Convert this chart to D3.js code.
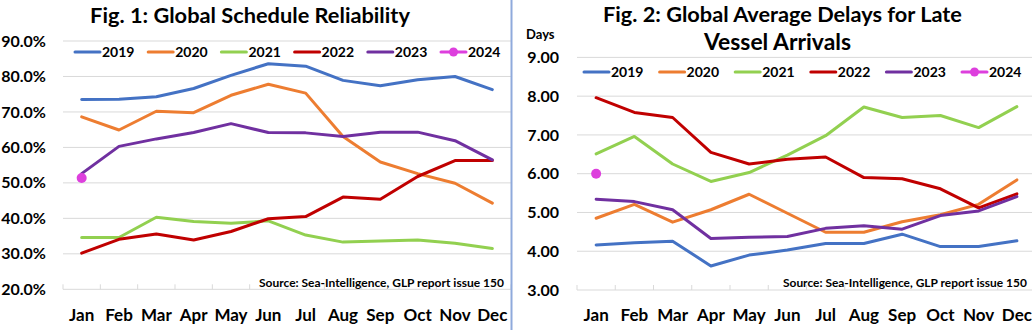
<!DOCTYPE html>
<html><head><meta charset="utf-8">
<script src="https://cdn.jsdelivr.net/npm/d3@7"></script>
<style>
body{margin:0;background:#fff}
svg{display:block}
text{font-family:Lato,"Open Sans",sans-serif;font-weight:700;fill:#000}
</style>
</head><body>
<svg id="c" width="1032" height="330"></svg>
<script>
const months = ["Jan","Feb","Mar","Apr","May","Jun","Jul","Aug","Sep","Oct","Nov","Dec"];
const years = ["2019","2020","2021","2022","2023","2024"];
const colors = ["#4472C4","#ED7D31","#92D050","#C00000","#7030A0","#DD3FDD"];

const rel2019 = [73.5,73.6,74.3,76.6,80.3,83.6,82.9,78.9,77.4,79.1,80.0,76.3];
const rel2020 = [68.6,64.9,70.2,69.8,74.7,77.8,75.3,63.1,55.9,52.6,49.9,44.3];
const rel2021 = [34.6,34.6,40.3,39.1,38.6,39.3,35.3,33.3,33.6,33.9,33.0,31.5];
const rel2022 = [30.2,34.1,35.6,33.9,36.3,39.9,40.5,46.0,45.4,51.8,56.3,56.3];
const rel2023 = [52.6,60.3,62.4,64.2,66.7,64.2,64.1,63.1,64.3,64.3,61.9,56.5];
const rel2024 = [51.4];
const relTicks = [20,30,40,50,60,70,80,90];

const delay2019 = [4.16,4.22,4.26,3.62,3.90,4.03,4.20,4.20,4.44,4.12,4.12,4.27];
const delay2020 = [4.85,5.21,4.75,5.07,5.47,4.98,4.49,4.49,4.76,4.94,5.21,5.84];
const delay2021 = [6.51,6.96,6.25,5.80,6.03,6.48,6.98,7.72,7.45,7.50,7.19,7.73];
const delay2022 = [7.96,7.58,7.45,6.55,6.25,6.37,6.43,5.90,5.87,5.61,5.12,5.48];
const delay2023 = [5.34,5.28,5.07,4.33,4.36,4.38,4.59,4.66,4.57,4.92,5.04,5.41];
const delay2024 = [6.00];
const delayTicks = [3,4,5,6,7,8,9];

const sourceText = "Source: Sea-Intelligence, GLP report issue 150";

const svg = d3.select("#c");

function fit(sel, target){
  const n = sel.node();
  const fs = parseFloat(sel.attr("font-size"));
  const w = n.getComputedTextLength();
  sel.attr("font-size", (fs*target/w).toFixed(2));
}

function drawChart(cfg){
  const g = svg.append("g");
  const x = d3.scaleBand().domain(months).range([cfg.x0, cfg.x1]);
  const y = d3.scaleLinear().domain(cfg.domain).range([cfg.yb, cfg.yt]);

  // gridlines
  g.append("g").selectAll("line").data(cfg.ticks.slice(1)).join("line")
    .attr("x1", cfg.x0).attr("x2", Math.min(cfg.x1, cfg.gridEnd))
    .attr("y1", d=>y(d)).attr("y2", d=>y(d))
    .attr("stroke","#d9d9d9").attr("stroke-width",1);

  // bottom axis
  const ax = g.append("g").attr("transform",`translate(0,${y(cfg.domain[0])})`)
    .call(d3.axisBottom(x).tickSize(0).tickFormat(""));
  ax.select(".domain").attr("stroke","#d9d9d9").attr("d",`M${cfg.x0},0H${Math.min(cfg.x1,cfg.gridEnd)}`);
  const edges = months.map(m=>x(m)).concat([cfg.x1]);
  g.append("g").selectAll("line").data(edges).join("line")
    .attr("x1",d=>d).attr("x2",d=>d)
    .attr("y1",y(cfg.domain[0])).attr("y2",y(cfg.domain[0])-5)
    .attr("stroke","#d9d9d9").attr("stroke-width",1);

  // month labels
  g.append("g").selectAll("text").data(months).join("text")
    .attr("x", d=>x(d)+x.bandwidth()/2).attr("y", cfg.monthY)
    .attr("text-anchor","middle").attr("font-size",17).text(d=>d);

  // y labels
  g.append("g").selectAll("text").data(cfg.ticks).join("text")
    .attr("x", cfg.yLabelX).attr("y", d=>y(d)).attr("dy","0.35em")
    .attr("text-anchor","end").attr("font-size",16).text(cfg.fmt);

  // source
  const src = g.append("text").attr("x", cfg.srcX).attr("y", cfg.srcY)
    .attr("font-size",13).text(sourceText);
  fit(src, cfg.srcW);

  // series
  const line = d3.line().x((d,i)=>x(months[i])+x.bandwidth()/2).y(d=>y(d));
  cfg.series.forEach((s,k)=>{
    if(s.length>1){
      g.append("path").attr("d", line(s)).attr("fill","none")
        .attr("stroke", colors[k]).attr("stroke-width",3)
        .attr("stroke-linejoin","round").attr("stroke-linecap","round");
    } else {
      g.append("circle").attr("cx", x(months[0])+x.bandwidth()/2).attr("cy", y(s[0]))
        .attr("r",5).attr("fill",colors[k]);
    }
  });

  // legend
  const lg = g.append("g");
  years.forEach((yr,k)=>{
    const lx = cfg.legX + k*cfg.legStep;
    lg.append("line").attr("x1",lx).attr("x2",lx+25).attr("y1",cfg.legY).attr("y2",cfg.legY)
      .attr("stroke",colors[k]).attr("stroke-width",3).attr("stroke-linecap","round");
    if(k===5) lg.append("circle").attr("cx",lx+12.5).attr("cy",cfg.legY).attr("r",4.5).attr("fill",colors[k]);
    lg.append("text").attr("x",lx+27).attr("y",cfg.legY).attr("dy","0.36em")
      .attr("font-size",14).text(yr);
  });

  // titles
  cfg.titles.forEach(t=>{
    const tt = g.append("text").attr("x",t.x).attr("y",t.y).attr("text-anchor","middle")
      .attr("font-size",22).text(t.text);
    fit(tt, t.w);
  });
}

drawChart({
  x0:63, x1:511, gridEnd:511, domain:[20,90], yb:289.3, yt:41,
  ticks: relTicks, fmt: d=>d3.format(".1f")(d)+"%", yLabelX:46, monthY:321,
  srcX:259, srcY:287, srcW:245,
  series:[rel2019,rel2020,rel2021,rel2022,rel2023,rel2024],
  legX:75, legStep:73.2, legY:52,
  titles:[{text:"Fig. 1: Global Schedule Reliability", x:250, y:23.3, w:320}]
});

drawChart({
  x0:577, x1:577+12*38.25, gridEnd:1032, domain:[3,9], yb:290, yt:57.4,
  ticks: delayTicks, fmt: d=>d3.format(".2f")(d), yLabelX:559, monthY:321,
  srcX:783, srcY:287, srcW:244,
  series:[delay2019,delay2020,delay2021,delay2022,delay2023,delay2024],
  legX:584, legStep:75.6, legY:72,
  titles:[{text:"Fig. 2: Global Average Delays for Late", x:782.5, y:21.7, w:359},
          {text:"Vessel Arrivals", x:777.5, y:50, w:147}]
});

svg.append("text").attr("x",526).attr("y",39).attr("font-size",13).text("Days");

svg.append("line").attr("x1",511.5).attr("x2",511.5).attr("y1",0).attr("y2",330)
  .attr("stroke","#8FAADC").attr("stroke-width",2);
</script>
</body></html>
